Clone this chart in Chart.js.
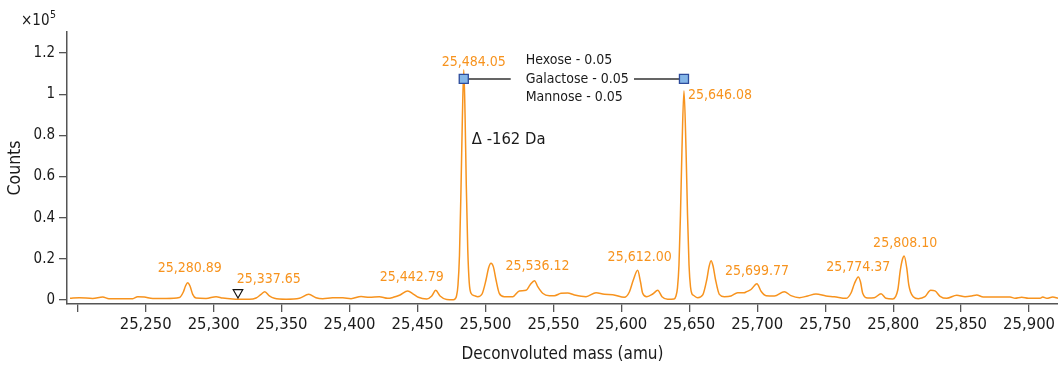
<!DOCTYPE html>
<html>
<head>
<meta charset="utf-8">
<script src="https://cdn.jsdelivr.net/npm/chart.js@4/dist/chart.umd.min.js"></script>
<style>
  html, body { margin: 0; padding: 0; background: #ffffff; }
  #wrap { width: 1058px; height: 368px; }
</style>
</head>
<body>
<div id="wrap"><canvas id="spectrum" width="1058" height="368"></canvas></div>
<script>
// Deconvoluted mass spectrum (amu vs counts)
const massValues = [
  25194.3, 25201.2, 25211.0, 25218.4, 25223.0, 25240.5, 25244.1, 25249.0, 25255.2, 25265.0,
  25274.8, 25277.7, 25279.3, 25280.89, 25282.6, 25284.6, 25287.0, 25294.4, 25301.8, 25306.7,
  25314.0, 25326.3, 25331.2, 25334.9, 25337.65, 25341.0, 25344.7, 25353.3, 25363.1, 25370.0,
  25375.3, 25380.3, 25387.6, 25395.0, 25401.1, 25408.5, 25414.6, 25421.9, 25428.1, 25432.2,
  25437.2, 25442.79, 25446.9, 25450.6, 25456.8, 25460.5, 25463.4, 25466.6, 25471.5, 25476.4,
  25477.6, 25478.7, 25479.8, 25480.9, 25482.0, 25483.0, 25484.05, 25485.0, 25485.9, 25487.0,
  25488.1, 25489.4, 25491.8, 25494.3, 25497.5, 25500.4, 25502.3, 25504.1, 25505.8, 25507.8,
  25510.2, 25513.9, 25520.1, 25524.9, 25529.9, 25532.8, 25536.12, 25538.5, 25542.1, 25547.0,
  25550.7, 25555.6, 25560.5, 25565.4, 25574.0, 25581.4, 25587.5, 25593.7, 25602.2, 25605.9,
  25608.8, 25612.00, 25614.1, 25615.7, 25618.7, 25623.1, 25626.8, 25629.9, 25634.1, 25638.8,
  25640.2, 25641.3, 25642.4, 25643.5, 25644.6, 25646.08, 25647.6, 25648.7, 25649.8, 25650.9,
  25652.0, 25653.0, 25656.2, 25659.9, 25662.8, 25664.5, 25666.0, 25667.5, 25669.2, 25672.1,
  25675.8, 25680.7, 25685.6, 25690.5, 25691.7, 25695.4, 25699.77, 25702.8, 25706.5, 25712.6,
  25719.9, 25724.8, 25731.0, 25737.1, 25743.2, 25750.6, 25756.7, 25765.3, 25769.0, 25771.4,
  25774.37, 25776.0, 25777.6, 25781.3, 25786.1, 25791.1, 25794.7, 25799.7, 25803.4, 25805.3,
  25806.9, 25808.10, 25810.0, 25811.5, 25812.8, 25814.8, 25818.5, 25823.4, 25827.6, 25830.8,
  25834.5, 25839.4, 25846.8, 25852.9, 25857.8, 25861.5, 25866.3, 25878.6, 25886.0, 25889.7,
  25894.6, 25899.5, 25908.1, 25910.1, 25913.0, 25917.4, 25921.3
];
const countValues = [
  800, 1100, 750, 1450, 650, 650, 1600, 1450, 750, 750,
  1200, 3900, 6800, 8400, 6800, 2750, 950, 750, 1600, 950,
  500, 350, 950, 2750, 4050, 1950, 800, 350, 800, 2750,
  1100, 650, 1100, 1100, 650, 1700, 1300, 1600, 800, 1300,
  2450, 4400, 2900, 1300, 500, 1950, 4700, 1950, 250, 150,
  500, 1950, 7300, 21900, 53500, 87500, 111800, 89900, 55900, 24300,
  8250, 3250, 2100, 1600, 2900, 9700, 15550, 17850, 16200, 9700,
  3250, 1600, 1600, 4400, 4700, 7300, 9400, 6450, 3250, 2100,
  2100, 3250, 3400, 2450, 1600, 3550, 2750, 2600, 1300, 3900,
  9700, 14450, 8750, 3250, 1600, 2900, 4700, 1600, 350, 500,
  1950, 5850, 17000, 41300, 72900, 101600, 72900, 41300, 17000, 6300,
  2900, 2300, 1100, 2450, 9700, 16050, 19100, 16500, 10200, 2750,
  1600, 1950, 3550, 3550, 3900, 5100, 7900, 4250, 2100, 1950,
  4050, 2100, 1100, 1950, 2900, 1950, 1600, 800, 3400, 7800,
  11200, 8750, 3250, 950, 1100, 3050, 800, 500, 4850, 14600,
  19900, 21400, 15550, 7300, 3900, 1600, 650, 1600, 4700, 4400,
  1800, 800, 2300, 1600, 1950, 2450, 1450, 1450, 1450, 800,
  1300, 800, 800, 1450, 800, 1450, 800
];

// Labelled peak masses
const peakLabelMasses = [25280.89, 25337.65, 25442.79, 25484.05, 25536.12, 25612.00, 25646.08, 25699.77, 25774.37, 25808.10];

// Mass-shift annotation between the two main species
const shiftMarkerMasses = [25484.05, 25646.08];
const shiftMarkerCounts = [107400, 107400];
const shiftGapMasses = [25518.6, 25609.3];
const glycanLines = ['Hexose - 0.05', 'Galactose - 0.05', 'Mannose - 0.05'];
const deltaText = 'Δ -162 Da';

// Small reference marker on the baseline
const flagMass = [25317.9];
const flagCount = [3650];

// Axis ticks
const massTicks = [25200, 25250, 25300, 25350, 25400, 25450, 25500, 25550, 25600, 25650, 25700, 25750, 25800, 25850, 25900];
const countTicks = [0, 20000, 40000, 60000, 80000, 100000, 120000];

// ---- layout / style ----
const FONT = '"DejaVu Sans Condensed", "Liberation Sans Narrow", sans-serif';
const ORANGE = '#f7931e';
const INK = '#1a1a1a';
const AXIS = '#555555';
// label centre offsets (px) from each peak apex
const labelOffsets = [[2, -14], [4, -12], [4, -14], [10, -8], [3, -14], [2, -13], [36, 4], [0, -12], [0, -10], [1, -13]];

const spectrumPoints = massValues.map((m, i) => ({ x: m, y: countValues[i] }));
const connectorPoints = [
  { x: shiftMarkerMasses[0], y: shiftMarkerCounts[0] },
  { x: shiftGapMasses[0], y: shiftMarkerCounts[0] },
  { x: (shiftGapMasses[0] + shiftGapMasses[1]) / 2, y: null },
  { x: shiftGapMasses[1], y: shiftMarkerCounts[1] },
  { x: shiftMarkerMasses[1], y: shiftMarkerCounts[1] }
];
const markerPoints = shiftMarkerMasses.map((m, i) => ({ x: m, y: shiftMarkerCounts[i] }));
const flagPoints = flagMass.map((m, i) => ({ x: m, y: flagCount[i] }));

function countAt(mass) {
  const i = massValues.indexOf(mass);
  return i >= 0 ? countValues[i] : 0;
}

const annotationPlugin = {
  id: 'spectrumAnnotations',
  afterDatasetsDraw(chart) {
    const ctx = chart.ctx;
    const xs = chart.scales.x, ys = chart.scales.y;
    ctx.save();
    // peak mass labels
    ctx.font = '14px ' + FONT;
    ctx.fillStyle = ORANGE;
    ctx.textAlign = 'center';
    ctx.textBaseline = 'middle';
    peakLabelMasses.forEach((m, i) => {
      const px = xs.getPixelForValue(m) + labelOffsets[i][0];
      const py = ys.getPixelForValue(countAt(m)) + labelOffsets[i][1];
      const txt = m.toLocaleString('en-US', { minimumFractionDigits: 2, maximumFractionDigits: 2 });
      ctx.fillText(txt, px, py);
    });
    // glycan text block between the connector segments
    ctx.fillStyle = INK;
    ctx.textAlign = 'left';
    ctx.font = '14px ' + FONT;
    const gx = xs.getPixelForValue(shiftGapMasses[0]) + 15;
    const gy = ys.getPixelForValue(shiftMarkerCounts[0]);
    glycanLines.forEach((t, i) => ctx.fillText(t, gx, gy + (i - 1) * 18.7));
    // delta label
    ctx.font = '16.5px ' + FONT;
    ctx.fillText(deltaText, xs.getPixelForValue(shiftMarkerMasses[0]) + 8, ys.getPixelForValue(78000));
    // scale exponent above the count axis
    ctx.font = '15px ' + FONT;
    ctx.textBaseline = 'alphabetic';
    ctx.fillText('×10', 21, 25);
    const w = ctx.measureText('×10').width;
    ctx.font = '10.5px ' + FONT;
    ctx.fillText('5', 21 + w + 0.5, 18);
    ctx.restore();
  }
};

new Chart(document.getElementById('spectrum'), {
  type: 'line',
  data: {
    datasets: [
      {
        label: 'markers',
        data: markerPoints,
        showLine: false,
        pointStyle: 'rect',
        pointRadius: 6.4,
        pointBackgroundColor: '#84b6e8',
        pointBorderColor: '#2d4c9c',
        pointBorderWidth: 1.3,
        order: 0
      },
      {
        label: 'connector',
        data: connectorPoints,
        borderColor: '#333333',
        borderWidth: 1.4,
        pointRadius: 0,
        spanGaps: false,
        order: 1
      },
      {
        label: 'flag',
        data: flagPoints,
        showLine: false,
        pointStyle: 'triangle',
        rotation: 180,
        pointRadius: 5.5,
        pointBackgroundColor: '#ffffff',
        pointBorderColor: '#111111',
        pointBorderWidth: 1.2,
        order: 2
      },
      {
        label: 'spectrum',
        data: spectrumPoints,
        borderColor: ORANGE,
        borderWidth: 1.5,
        pointRadius: 0,
        cubicInterpolationMode: 'monotone',
        order: 3
      }
    ]
  },
  options: {
    animation: false,
    responsive: false,
    maintainAspectRatio: false,
    layout: { autoPadding: false, padding: { top: 32, right: 0, left: 0, bottom: 0 } },
    plugins: { legend: { display: false }, tooltip: { enabled: false } },
    scales: {
      x: {
        type: 'linear',
        min: 25192.1,
        max: 25921.3,
        afterBuildTicks: s => { s.ticks = massTicks.map(v => ({ value: v })); },
        afterFit: s => { s.height = 64; s.paddingLeft = 0; s.paddingRight = 0; },
        ticks: {
          autoSkip: false,
          maxRotation: 0,
          padding: 3,
          color: INK,
          font: { family: FONT, size: 16.5 },
          callback: v => (v === massTicks[0] ? '' : Number(v).toLocaleString('en-US'))
        },
        grid: { drawOnChartArea: false, drawTicks: true, tickLength: 8, color: AXIS, lineWidth: 1.3 },
        border: { display: true, color: AXIS, width: 1.5 },
        title: {
          display: true,
          text: 'Deconvoluted mass (amu)',
          color: INK,
          font: { family: FONT, size: 17 },
          padding: { top: 0, bottom: 3 }
        }
      },
      y: {
        type: 'linear',
        min: -1950,
        max: 130200,
        afterBuildTicks: s => { s.ticks = countTicks.map(v => ({ value: v })); },
        afterFit: s => { s.width = 67; },
        ticks: {
          padding: 4,
          color: INK,
          font: { family: FONT, size: 15 },
          callback: v => String(Number(v) / 100000)
        },
        grid: { drawOnChartArea: false, drawTicks: true, tickLength: 8, color: AXIS, lineWidth: 1.3 },
        border: { display: true, color: AXIS, width: 1.5 },
        title: {
          display: true,
          text: 'Counts',
          color: INK,
          font: { family: FONT, size: 17.5 },
          padding: { top: 5, bottom: 0 }
        }
      }
    }
  },
  plugins: [annotationPlugin]
});
</script>
</body>
</html>
